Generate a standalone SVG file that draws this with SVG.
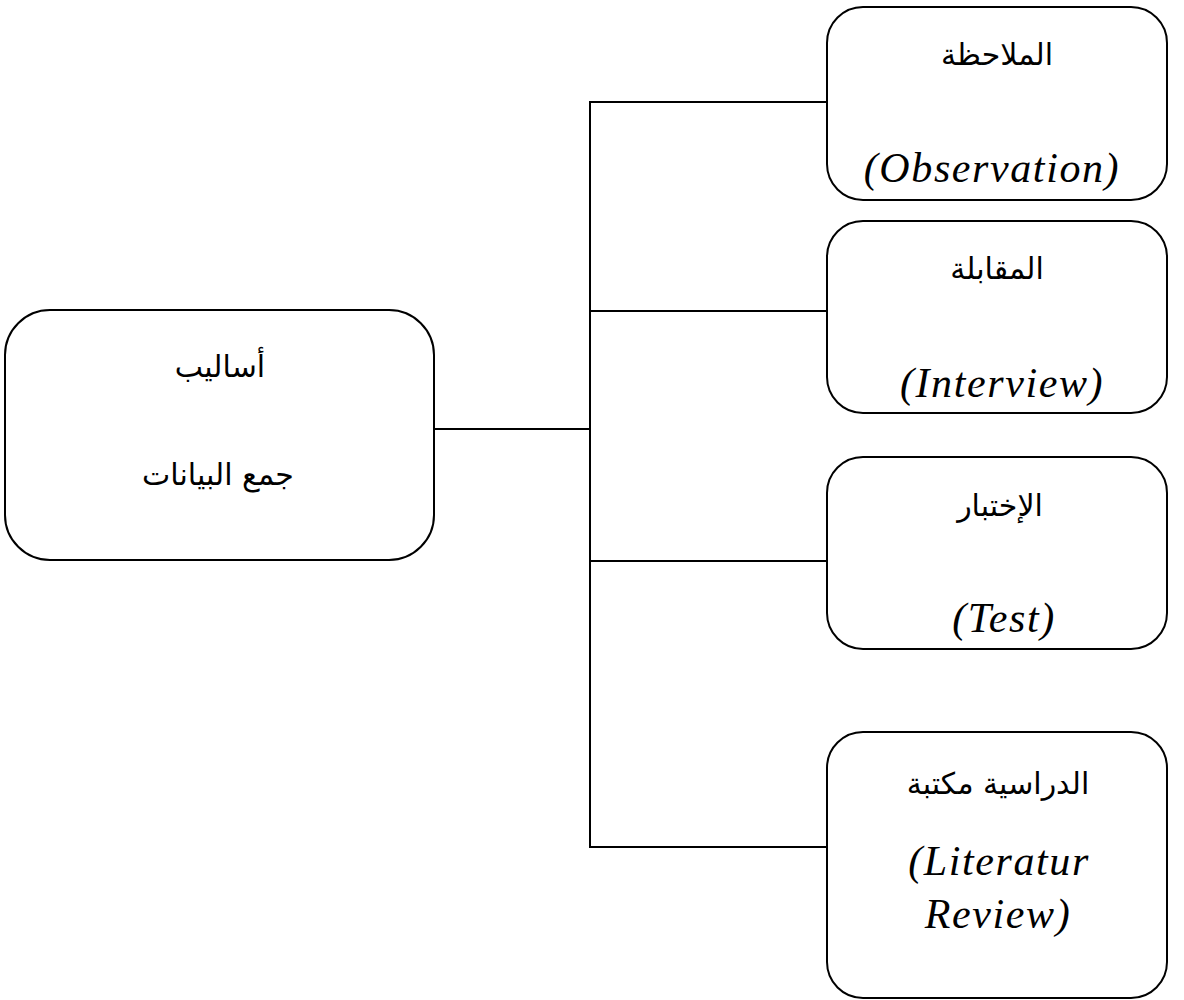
<svg xmlns="http://www.w3.org/2000/svg" width="1184" height="1000" viewBox="0 0 1184 1000">
<style>
.box{fill:#fff;stroke:#000;stroke-width:2}
.ar{font-family:"DejaVu Sans",sans-serif;font-size:30px;fill:#000;text-anchor:middle}
.en{font-family:"Liberation Serif",serif;font-style:italic;font-size:42px;letter-spacing:1.6px;fill:#000;text-anchor:middle}
.ln{stroke:#000;stroke-width:2;fill:none}
</style>
<rect width="1184" height="1000" fill="#fff"/>
<g id="connectors">
<line class="ln" x1="434" y1="429" x2="590" y2="429"/>
<line class="ln" x1="590" y1="102" x2="590" y2="847"/>
<line class="ln" x1="589" y1="102" x2="827" y2="102"/>
<line class="ln" x1="590" y1="311" x2="827" y2="311"/>
<line class="ln" x1="590" y1="561" x2="827" y2="561"/>
<line class="ln" x1="589" y1="847" x2="827" y2="847"/>
</g>
<g id="main">
<rect class="box" x="5" y="310" width="429" height="250" rx="45" ry="45"/>
<text class="ar" x="220" y="377">أساليب</text>
<text class="ar" x="218" y="485">جمع البيانات</text>
</g>
<g id="observation">
<rect class="box" x="827" y="7" width="340" height="193" rx="36" ry="36"/>
<text class="ar" x="997" y="65">الملاحظة</text>
<text class="en" x="992" y="182">(Observation)</text>
</g>
<g id="interview">
<rect class="box" x="827" y="221" width="340" height="192" rx="36" ry="36"/>
<text class="ar" x="997" y="279">المقابلة</text>
<text class="en" x="1002" y="397">(Interview)</text>
</g>
<g id="test">
<rect class="box" x="827" y="457" width="340" height="192" rx="36" ry="36"/>
<text class="ar" x="1000" y="516">الإختبار</text>
<text class="en" x="1004" y="632">(Test)</text>
</g>
<g id="literatur">
<rect class="box" x="827" y="732" width="340" height="266" rx="36" ry="36"/>
<text class="ar" x="998" y="794">الدراسية مكتبة</text>
<text class="en" x="999" y="875">(Literatur</text>
<text class="en" x="998" y="928">Review)</text>
</g>
</svg>
